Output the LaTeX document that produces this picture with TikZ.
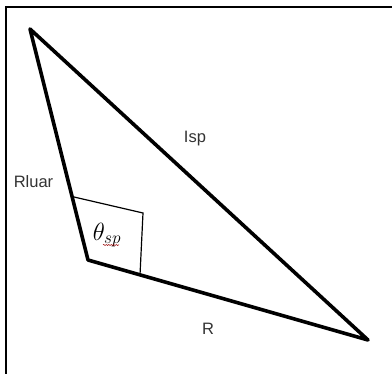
\documentclass[tikz,border=0pt]{standalone}
\usepackage{fontspec}
\setmainfont{Liberation Sans}
\usetikzlibrary{decorations.pathmorphing}
\begin{document}
\begin{tikzpicture}[x=1pt,y=-1pt,
  side/.style={line width=3.6pt,line cap=round,line join=round},
  anglebox/.style={line width=1.2pt},
  frame/.style={line width=1.8pt},
  lbl/.style={font=\fontsize{16.5}{18}\selectfont,text=black!80,inner sep=0pt},
  squiggle/.style={draw=red!60!black,line width=0.5pt,decorate,decoration={snake,amplitude=0.6pt,segment length=2.5pt}}]
\useasboundingbox (0,0) rectangle (392,374);
\fill[white] (0,0) rectangle (392,374);
% frame
\coordinate (f1) at (6,374);
\coordinate (f2) at (6,7);
\coordinate (f3) at (392,7);
\draw[frame] (f1) -- (f2) -- (f3);
% triangle
\coordinate (A) at (30,29);
\coordinate (B) at (88,260);
\coordinate (C) at (368,340);
\draw[side] (A) -- (B) -- (C) -- cycle;
% angle box
\coordinate (p1) at (74,197);
\coordinate (p2) at (143,213);
\coordinate (p3) at (140,275);
\draw[anglebox] (p1) -- (p2) -- (p3);
% labels
\node[lbl] (rluar) at (33.5,182) {Rluar};
\node[lbl] (isp) at (195,139) {Isp};
\node[lbl] (r) at (208,328.5) {R};
\node[inner sep=0pt] (theta) at (107,235) {\fontsize{23}{24}\selectfont$\theta_{sp}$};
\coordinate (u1) at (103,245);
\coordinate (u2) at (119,245);
\draw[squiggle] (u1) -- (u2);
\end{tikzpicture}
\end{document}
